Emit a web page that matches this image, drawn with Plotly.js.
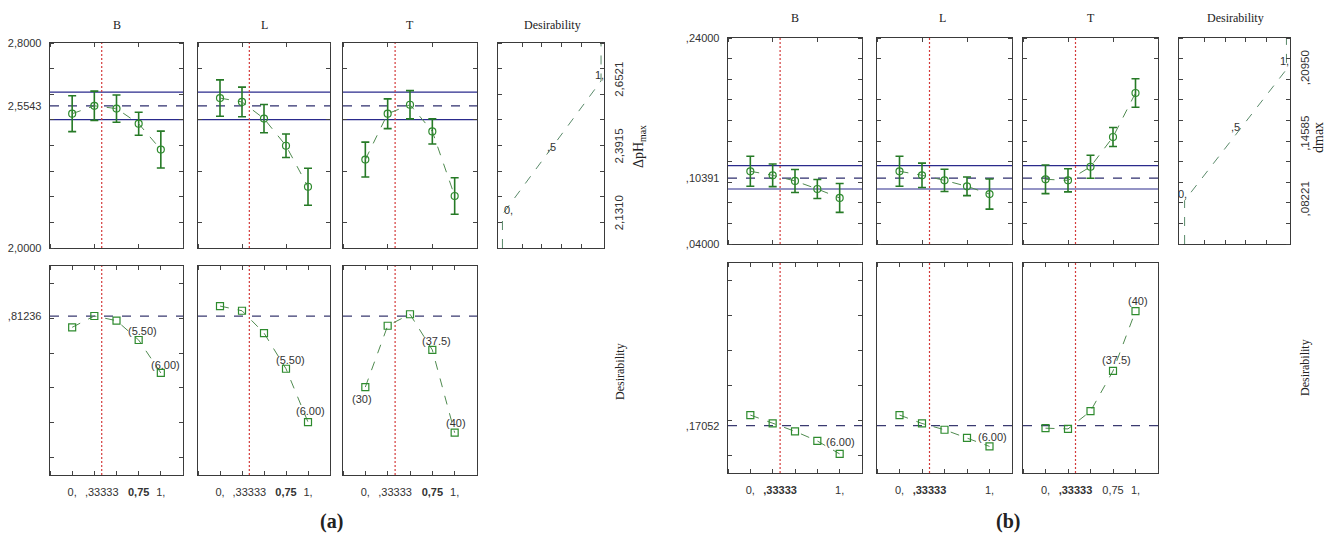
<!DOCTYPE html>
<html><head><meta charset="utf-8">
<script src="https://cdn.plot.ly/plotly-3.0.1.min.js"></script>
<style>html,body{margin:0;padding:0;background:#fff}#chart{width:1328px;height:536px}</style>
</head><body><div id="chart"></div>
<script>
// ================= DATA =================
const factors = ['B', 'L', 'T'];
const coded = [0, 0.25, 0.5, 0.75, 1];
const optimumSetting = 0.33333;

// ---- (a) response: ΔpH max ----
const aRespB = [2.524, 2.555, 2.544, 2.485, 2.384];
const aErrB  = [0.070, 0.057, 0.053, 0.045, 0.072];
const aRespL = [2.585, 2.570, 2.505, 2.399, 2.239];
const aErrL  = [0.071, 0.058, 0.055, 0.046, 0.072];
const aRespT = [2.345, 2.524, 2.559, 2.455, 2.203];
const aErrT  = [0.068, 0.058, 0.055, 0.049, 0.071];
const aPredicted = 2.5543;
const aConfBand = [2.501, 2.608];
const aRespRange = [2.0, 2.8];
const aRespTickVals = [2.0, 2.5543, 2.8];
const aRespTickText = ['2,0000', '2,5543', '2,8000'];
const aDesLimits = [2.1310, 2.3915, 2.6521];          // d=0, d=0.5, d=1
const aDesLimitText = ['2,1310', '2,3915', '2,6521'];
const aDesB = [0.748, 0.813, 0.786, 0.675, 0.486];
const aDesL = [0.870, 0.843, 0.715, 0.510, 0.204];
const aDesT = [0.405, 0.757, 0.823, 0.618, 0.143];
const aOverall = 0.81236;
const aOverallText = [',81236'];
const aXTickVals = [0, 0.33333, 0.75, 1];
const aXTickText = ['0,', ',33333', '<b>0,75</b>', '1,'];

// ---- (b) response: dmax ----
const bRespB = [0.1106, 0.1067, 0.1012, 0.0934, 0.0847];
const bErrB  = [0.0146, 0.0110, 0.0112, 0.0092, 0.0140];
const bRespL = [0.1106, 0.1067, 0.1018, 0.0960, 0.0885];
const bErrL  = [0.0146, 0.0118, 0.0108, 0.0090, 0.0146];
const bRespT = [0.1028, 0.1018, 0.1150, 0.1439, 0.1866];
const bErrT  = [0.0139, 0.0112, 0.0112, 0.0092, 0.0139];
const bPredicted = 0.10391;
const bConfBand = [0.0934, 0.1160];
const bRespRange = [0.04, 0.24];
const bRespTickVals = [0.04, 0.10391, 0.24];
const bRespTickText = [',04000', ',10391', ',24000'];
const bDesLimits = [0.08221, 0.14585, 0.20950];
const bDesLimitText = [',08221', ',14585', ',20950'];
const bDesB = [0.231, 0.183, 0.138, 0.083, 0.009];
const bDesL = [0.231, 0.183, 0.147, 0.101, 0.052];
const bDesT = [0.156, 0.152, 0.253, 0.483, 0.825];
const bOverall = 0.17052;
const bOverallText = [',17052'];
const bXTickValsBL = [0, 0.33333, 1];
const bXTickTextBL = ['0,', '<b>,33333</b>', '1,'];
const bXTickValsT = [0, 0.33333, 0.75, 1];
const bXTickTextT = ['0,', '<b>,33333</b>', '0,75', '1,'];

// factor level labels shown on desirability profiles
const aLabelsB = ['', '', '', '(5.50)', '(6.00)'];
const aLabelsL = ['', '', '', '(5.50)', '(6.00)'];
const aLabelsT = ['(30)', '', '', '(37.5)', '(40)'];
const bLabelsB = ['', '', '', '', '(6.00)'];
const bLabelsL = ['', '', '', '', '(6.00)'];
const bLabelsT = ['', '', '', '(37.5)', '(40)'];
const desFnLabels = ['0,', ',5', '1,'];
const desRange = [-0.1, 1.1];

// ================= STYLE / LAYOUT =================
const W = 1328, H = 536;
const SANS = 'Liberation Sans, Arial, sans-serif';
const SERIF = 'Liberation Serif, Times New Roman, serif';
const BORDER = '#3a3a3a';
const xdom = (l, r) => [l / W, r / W];
const ydom = (t, b) => [1 - b / H, 1 - t / H];
const px = v => v / W, py = v => 1 - v / H;

const layout = {
  width: W, height: H, margin: {l: 0, r: 0, t: 0, b: 0}, showlegend: false,
  paper_bgcolor: '#fff', plot_bgcolor: '#fff',
  font: {family: SANS, size: 11, color: '#333'},
  annotations: [], shapes: []
};
const traces = [];
let n = 0;

function axisBase() {
  return {showline: true, linecolor: BORDER, linewidth: 1.3, mirror: 'ticks', ticks: '',
    showticklabels: false, showgrid: false, zeroline: false, fixedrange: true,
    tickfont: {family: SANS, size: 11, color: '#333'}};
}
function addAxes(xCfg, yCfg) {
  n++;
  const s = n === 1 ? '' : String(n);
  layout['xaxis' + s] = Object.assign(axisBase(), xCfg, {anchor: 'y' + s});
  layout['yaxis' + s] = Object.assign(axisBase(), yCfg, {anchor: 'x' + s});
  return {x: 'x' + s, y: 'y' + s};
}
function minor(t0, d) { return {ticks: 'inside', tick0: t0, dtick: d, ticklen: 4, tickcolor: '#444', tickwidth: 1}; }
function hline(ax, v, color, width, dash) {
  layout.shapes.push({type: 'line', layer: 'below', xref: ax.x + ' domain', yref: ax.y, x0: 0, x1: 1, y0: v, y1: v,
    line: {color: color, width: width, dash: dash}});
}
function vline(ax, v) {
  layout.shapes.push({type: 'line', layer: 'below', xref: ax.x, yref: ax.y + ' domain', x0: v, x1: v, y0: 0, y1: 1,
    line: {color: '#d43a3a', width: 1.2, dash: '2px,2px'}});
}

function responsePanel(g, vals, errs, pred, band, range, mstep, yTicks) {
  const yc = {domain: ydom(g[2], g[3]), range: range, minor: minor(range[0], mstep)};
  if (yTicks) Object.assign(yc, {showticklabels: true, tickmode: 'array', tickvals: yTicks[0], ticktext: yTicks[1], ticklabelstandoff: 5});
  const ax = addAxes({domain: xdom(g[0], g[1]), range: [-0.25, 1.25], minor: minor(0, 0.25)}, yc);
  band.forEach(v => hline(ax, v, '#2a2a8c', 1.2, 'solid'));
  hline(ax, pred, '#2e2e6e', 1.3, 'dash');
  vline(ax, optimumSetting);
  traces.push({type: 'scatter', mode: 'lines+markers', x: coded, y: vals, xaxis: ax.x, yaxis: ax.y,
    line: {color: '#4f8a4f', width: 1, dash: 'dash'},
    marker: {symbol: 'circle-open', size: 7, color: '#2e8b2e', line: {width: 1.2}},
    error_y: {type: 'data', array: errs, visible: true, color: '#267a26', thickness: 1.6, width: 4},
    hoverinfo: 'skip'});
}

function desirPanel(g, vals, overall, xTicks, yTicks, labels, shifts) {
  const yc = {domain: ydom(g[2], g[3]), range: desRange, minor: minor(0, 0.2)};
  if (yTicks) Object.assign(yc, {showticklabels: true, tickmode: 'array', tickvals: [overall], ticktext: yTicks, ticklabelstandoff: 5});
  const ax = addAxes({domain: xdom(g[0], g[1]), range: [-0.25, 1.25], minor: minor(0, 0.25),
    showticklabels: true, tickmode: 'array', tickvals: xTicks[0], ticktext: xTicks[1], ticklabelstandoff: 6}, yc);
  hline(ax, overall, '#3a3a70', 1.3, 'dash');
  vline(ax, optimumSetting);
  traces.push({type: 'scatter', mode: 'lines+markers', x: coded, y: vals, xaxis: ax.x, yaxis: ax.y,
    line: {color: '#4f8a4f', width: 1, dash: 'dash'},
    marker: {symbol: 'square-open', size: 7, color: '#2e8b2e', line: {width: 1.2}}, hoverinfo: 'skip'});
  labels.forEach((t, i) => {
    if (!t) return;
    layout.annotations.push({xref: ax.x, yref: ax.y, x: coded[i], y: vals[i], text: t, showarrow: false,
      xshift: shifts[i][0], yshift: shifts[i][1], font: {family: SANS, size: 11, color: '#333'}});
  });
}

function desFnPanel(g, limits, limitText, range, mstep, xr, title, titleX, titleY, lblShift) {
  const ax = addAxes({domain: xdom(g[0], g[1]), range: xr, minor: minor(0, 0.2)},
    {domain: ydom(g[2], g[3]), range: range, minor: minor(range[0], mstep), side: 'right',
     showticklabels: true, tickmode: 'array', tickvals: limits, ticktext: limitText, tickangle: -90,
     ticklabelstandoff: 4, tickfont: {family: SANS, size: 11.5, color: '#333'}});
  traces.push({type: 'scatter', mode: 'lines', x: [0, 0, 0.5, 1, 1], y: [range[0], limits[0], limits[1], limits[2], range[1]],
    xaxis: ax.x, yaxis: ax.y, line: {color: '#5a8a6a', width: 1, dash: 'dash'}, hoverinfo: 'skip'});
  [0, 0.5, 1].forEach((d, i) => layout.annotations.push({xref: ax.x, yref: ax.y, x: d, y: limits[i], text: desFnLabels[i],
    showarrow: false, xshift: lblShift[i][0], yshift: lblShift[i][1], font: {family: SANS, size: 11, color: '#333'}}));
  layout.annotations.push({xref: 'paper', yref: 'paper', x: px(titleX), y: py(titleY), text: title, textangle: -90,
    showarrow: false, xanchor: 'center', yanchor: 'middle', font: {family: SERIF, size: 14, color: '#222'}});
}

// ---------- panel geometry (px: left, right, top, bottom) ----------
const aTop = [[50, 183, 43, 248], [198, 330, 43, 248], [343, 477, 43, 248]];
const aBot = [[50, 183, 266, 475], [198, 330, 266, 475], [343, 477, 266, 475]];
const aFn = [498, 604, 43, 248];
const bTop = [[728, 862, 38, 244], [877, 1012, 38, 244], [1023, 1158, 38, 244]];
const bBot = [[728, 862, 263, 473], [877, 1012, 263, 473], [1023, 1158, 263, 473]];
const bFn = [1179, 1290, 38, 244];

// ---------- (a) ----------
responsePanel(aTop[0], aRespB, aErrB, aPredicted, aConfBand, aRespRange, 0.1, [aRespTickVals, aRespTickText]);
responsePanel(aTop[1], aRespL, aErrL, aPredicted, aConfBand, aRespRange, 0.1, null);
responsePanel(aTop[2], aRespT, aErrT, aPredicted, aConfBand, aRespRange, 0.1, null);
desFnPanel(aFn, aDesLimits, aDesLimitText, aRespRange, 0.1, [-0.045, 1.03], 'ΔpH<sub>max</sub>', 639, 147,
  [[6, 4], [0, 1], [-2, 6]]);
const aShB = [[0,0],[0,0],[0,0],[4,9],[5,8]];
const aShL = [[0,0],[0,0],[0,0],[4,9],[2,11]];
const aShT = [[-3,-12],[0,0],[0,0],[4,9],[1,10]];
desirPanel(aBot[0], aDesB, aOverall, [aXTickVals, aXTickText], aOverallText, aLabelsB, aShB);
desirPanel(aBot[1], aDesL, aOverall, [aXTickVals, aXTickText], null, aLabelsL, aShL);
desirPanel(aBot[2], aDesT, aOverall, [aXTickVals, aXTickText], null, aLabelsT, aShT);

// ---------- (b) ----------
responsePanel(bTop[0], bRespB, bErrB, bPredicted, bConfBand, bRespRange, 0.02, [bRespTickVals, bRespTickText]);
responsePanel(bTop[1], bRespL, bErrL, bPredicted, bConfBand, bRespRange, 0.02, null);
responsePanel(bTop[2], bRespT, bErrT, bPredicted, bConfBand, bRespRange, 0.02, null);
desFnPanel(bFn, bDesLimits, bDesLimitText, bRespRange, 0.02, [-0.055, 1.035], 'dmax', 1318, 138,
  [[-2, 7], [0, 8], [-2, 8]]);
const bShB = [[0,0],[0,0],[0,0],[0,0],[1,12]];
const bShL = [[0,0],[0,0],[0,0],[0,0],[3,9]];
const bShT = [[0,0],[0,0],[0,0],[3,11],[2,10]];
desirPanel(bBot[0], bDesB, bOverall, [bXTickValsBL, bXTickTextBL], bOverallText, bLabelsB, bShB);
desirPanel(bBot[1], bDesL, bOverall, [bXTickValsBL, bXTickTextBL], null, bLabelsL, bShL);
desirPanel(bBot[2], bDesT, bOverall, [bXTickValsT, bXTickTextT], null, bLabelsT, bShT);

// ---------- headers & captions ----------
function paperText(text, x, y, size, angle, weight) {
  layout.annotations.push({xref: 'paper', yref: 'paper', x: px(x), y: py(y), text: text, showarrow: false,
    xanchor: 'center', yanchor: 'middle', textangle: angle || 0,
    font: {family: SERIF, size: size, color: '#222', weight: weight || 'normal'}});
}
[117, 264, 410].forEach((x, i) => paperText(factors[i], x, 25, 12));
paperText('Desirability', 552, 25, 12);
[795, 943, 1091].forEach((x, i) => paperText(factors[i], x, 18, 12));
paperText('Desirability', 1235, 18, 12);
paperText('Desirability', 620, 372, 12, -90);
paperText('Desirability', 1305, 368, 12, -90);
paperText('(a)', 331, 521, 20, 0, 'bold');
paperText('(b)', 1008, 521, 20, 0, 'bold');

Plotly.newPlot('chart', traces, layout, {staticPlot: true, displayModeBar: false});
</script></body></html>
